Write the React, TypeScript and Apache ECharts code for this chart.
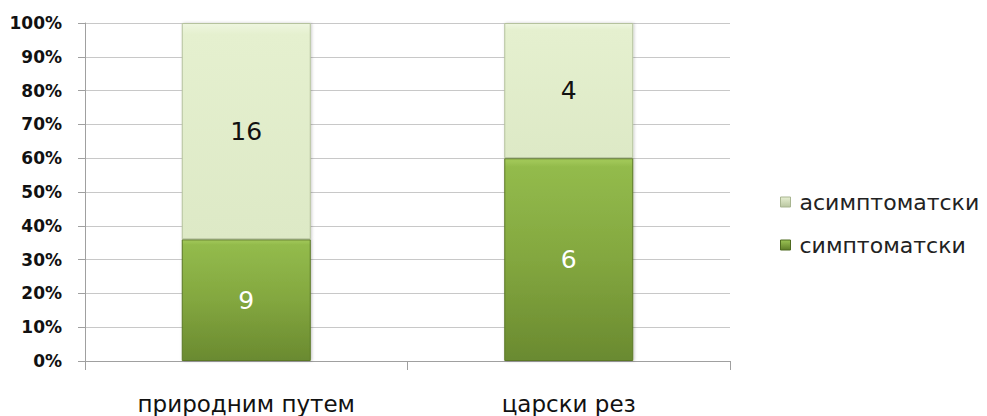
import React, { useEffect, useRef } from "react";
import * as echarts from "echarts";

const categories = ["природним путем", "царски рез"];
const symptomatic = [9, 6];
const asymptomatic = [16, 4];
const yTicks = [0, 10, 20, 30, 40, 50, 60, 70, 80, 90, 100];

export default function App() {
  const ref = useRef<HTMLDivElement>(null);
  useEffect(() => {
    document.body.style.margin = "0";
    if (!ref.current) return;
    const chart = echarts.init(ref.current, undefined, { renderer: "svg" });
    const totals = categories.map((_, i) => symptomatic[i] + asymptomatic[i]);
    const symPct = symptomatic.map((v, i) => (v / totals[i]) * 100);
    const asymPct = asymptomatic.map((v, i) => (v / totals[i]) * 100);
    const darkGrad = new echarts.graphic.LinearGradient(0, 0, 0, 1, [
      { offset: 0, color: "#a6cc5c" },
      { offset: 0.04, color: "#93bb4c" },
      { offset: 0.5, color: "#83a73f" },
      { offset: 1, color: "#6a8a30" },
    ]);
    const lightGrad = new echarts.graphic.LinearGradient(0, 0, 0, 1, [
      { offset: 0, color: "#eef6df" },
      { offset: 0.05, color: "#e5f0cf" },
      { offset: 1, color: "#dde9c6" },
    ]);
    const darkIcon = new echarts.graphic.LinearGradient(0, 0, 0, 1, [
      { offset: 0, color: "#9cc455" },
      { offset: 1, color: "#5f7e28" },
    ]);
    const lightIcon = new echarts.graphic.LinearGradient(0, 0, 0, 1, [
      { offset: 0, color: "#e6efd2" },
      { offset: 1, color: "#b9c6a0" },
    ]);
    chart.setOption({
      animation: false,
      grid: { left: 85, right: 257, top: 23, bottom: 55, containLabel: false },
      legend: {
        orient: "vertical",
        left: 775,
        top: 186,
        itemGap: 21,
        itemWidth: 10,
        itemHeight: 10,
        icon: "rect",
        data: [
          { name: "асимптоматски", itemStyle: { color: lightIcon, borderColor: "#a8b590", borderWidth: 1 } },
          { name: "симптоматски", itemStyle: { color: darkIcon, borderColor: "#4f6a20", borderWidth: 1 } },
        ],
        textStyle: {
          fontFamily: "DejaVu Sans",
          fontSize: 22,
          color: "#222",
          padding: [0, 0, 0, 4],
        },
      },
      xAxis: {
        type: "category",
        data: categories,
        boundaryGap: true,
        axisLine: { show: true, lineStyle: { color: "#a0a0a0", width: 1 } },
        axisTick: { show: true, length: 9, lineStyle: { color: "#a0a0a0" } },
        axisLabel: {
          fontFamily: "DejaVu Sans",
          fontSize: 23,
          color: "#111",
          margin: 31,
        },
      },
      yAxis: {
        type: "value",
        min: 0,
        max: 100,
        interval: 10,
        axisLine: { show: true, lineStyle: { color: "#a0a0a0", width: 1 } },
        axisTick: { show: true, length: 7, lineStyle: { color: "#a0a0a0" } },
        splitLine: { show: true, lineStyle: { color: "#c8c8c8", width: 1 } },
        axisLabel: {
          fontFamily: "DejaVu Sans",
          fontWeight: "bold",
          fontSize: 17,
          color: "#111",
          margin: 23,
          formatter: (v: number) => (yTicks.includes(v) ? v + "%" : ""),
        },
      },
      series: [
        {
          name: "симптоматски",
          type: "bar",
          stack: "total",
          barWidth: "40%",
          data: symPct,
          itemStyle: {
            color: darkGrad,
            borderColor: "#5b7826",
            borderWidth: 1,
            shadowColor: "rgba(0,0,0,0.25)",
            shadowBlur: 3,
            shadowOffsetX: 1,
          },
          label: {
            show: true,
            position: "inside",
            formatter: (p: any) => String(symptomatic[p.dataIndex]),
            color: "#ffffff",
            fontFamily: "DejaVu Sans",
            fontSize: 25,
          },
        },
        {
          name: "асимптоматски",
          type: "bar",
          stack: "total",
          barWidth: "40%",
          data: asymPct,
          itemStyle: {
            color: lightGrad,
            borderColor: "#b5c29d",
            borderWidth: 1,
            shadowColor: "rgba(0,0,0,0.2)",
            shadowBlur: 3,
            shadowOffsetX: 1,
          },
          label: {
            show: true,
            position: "inside",
            formatter: (p: any) => String(asymptomatic[p.dataIndex]),
            color: "#111111",
            fontFamily: "DejaVu Sans",
            fontSize: 25,
          },
        },
      ],
    });
    return () => chart.dispose();
  }, []);
  return <div ref={ref} style={{ width: 987, height: 416 }} />;
}
